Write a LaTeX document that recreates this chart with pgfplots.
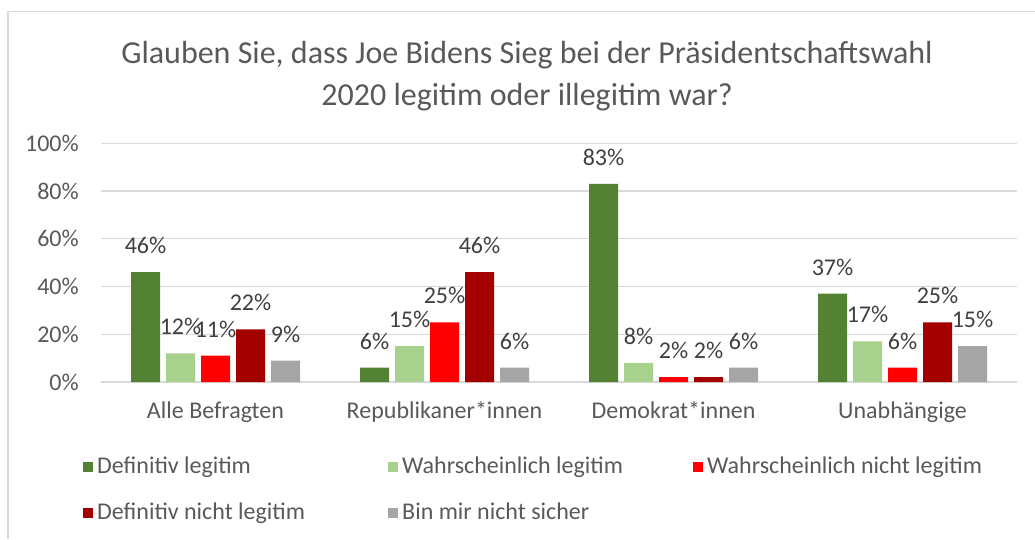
\documentclass[border=0pt]{standalone}
\usepackage{pgfplots}
\pgfplotsset{compat=1.18}
\usepackage{fontspec}
\setmainfont{Carlito}
\definecolor{dgreen}{HTML}{548235}
\definecolor{lgreen}{HTML}{A9D18E}
\definecolor{bred}{HTML}{FF0000}
\definecolor{dred}{HTML}{A50000}
\definecolor{bgray}{HTML}{A5A5A5}
\definecolor{txt}{HTML}{595959}
\definecolor{lbl}{HTML}{404040}
\definecolor{gridc}{HTML}{D9D9D9}
\newcommand{\sm}{\fontsize{24}{28}\selectfont}
\begin{document}
\begin{tikzpicture}[x=1pt,y=1pt]
\path[use as bounding box] (0pt,0pt) rectangle (1035pt,539pt);
\draw[gridc, line width=1.3pt] (8pt,0pt) -- (8pt,527.5pt) -- (1035pt,527.5pt);
\node[text=txt, font=\fontsize{32}{42}\selectfont, align=center] at (527pt,463pt)
  {Glauben Sie, dass Joe Bidens Sieg bei der Präsidentschaftswahl\\2020 legitim oder illegitim war?};
\begin{axis}[
  at={(101pt,157pt)}, anchor=south west,
  scale only axis, width=916pt, height=238.7pt,
  ymin=0, ymax=100, xmin=-0.5, xmax=3.5,
  ytick={0,20,...,100},
  yticklabel={\pgfmathprintnumber{\tick}\%},
  xtick={0,1,2,3},
  xticklabels={Alle Befragten, Republikaner*innen, Demokrat*innen, Unabhängige},
  /pgf/number format/assume math mode=true,
  axis line style={draw=none},
  major tick length=0pt,
  ymajorgrids, grid style={gridc, line width=1.3pt},
  tick label style={font=\sm, text=txt},
  yticklabel style={anchor=east, inner sep=0pt, xshift=-22pt},
  xticklabel style={anchor=base, inner sep=0pt, yshift=-36pt},
  ybar, bar width=29pt,
  nodes near coords={\pgfmathprintnumber{\pgfplotspointmeta}\%},
  every node near coord/.append style={font=\sm, text=lbl, anchor=base, inner sep=0pt, yshift=18.5pt},
  legend columns=3,
  legend style={draw=none, fill=none, at={(0,0)}, anchor=north west,
    xshift=-18pt, yshift=-74pt, font=\sm, text=txt, inner sep=0pt,
    nodes={inner sep=0pt, text height=17pt, text depth=5pt},
    column sep=0pt, row sep=24pt},
  legend image code/.code={\fill[#1,draw=none] (0pt,-5pt) rectangle (10pt,5pt); \path (0pt,0pt) -- (14pt,0pt);},
]
\addplot[fill=dgreen, draw=none, bar shift=-70pt] coordinates {(0,46) (1,6) (2,83) (3,37)};
\addlegendentry{\makebox[291pt][l]{Definitiv legitim}}
\addplot[fill=lgreen, draw=none, bar shift=-35pt] coordinates {(0,12) (1,15) (2,8) (3,17)};
\addlegendentry{\makebox[291pt][l]{Wahrscheinlich legitim}}
\addplot[fill=bred, draw=none, bar shift=0pt] coordinates {(0,11) (1,25) (2,2) (3,6)};
\addlegendentry{\makebox[291pt][l]{Wahrscheinlich nicht legitim}}
\addplot[fill=dred, draw=none, bar shift=35pt] coordinates {(0,22) (1,46) (2,2) (3,25)};
\addlegendentry{\makebox[291pt][l]{Definitiv nicht legitim}}
\addplot[fill=bgray, draw=none, bar shift=70pt] coordinates {(0,9) (1,6) (2,6) (3,15)};
\addlegendentry{\makebox[291pt][l]{Bin mir nicht sicher}}
\end{axis}
\end{tikzpicture}
\end{document}
